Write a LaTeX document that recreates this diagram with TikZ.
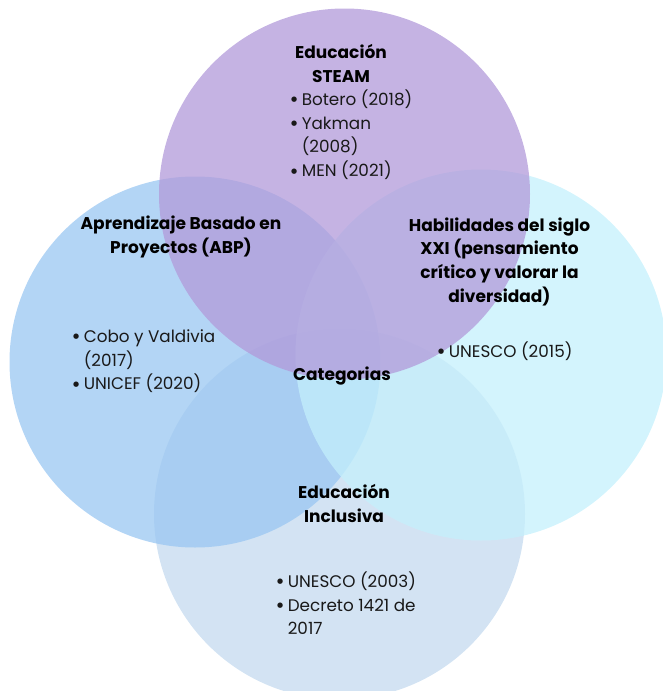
\documentclass[tikz,border=0pt]{standalone}
\usepackage{fontspec}
\setmainfont{Poppins}
\newfontfamily\dejavu{DejaVu Sans}
\definecolor{cTop}{RGB}{178,154,218}
\definecolor{cLeft}{RGB}{154,199,242}
\definecolor{cRight}{RGB}{196,240,252}
\definecolor{cBot}{RGB}{196,218,239}
\tikzset{
  venn/.style={fill opacity=0.75, draw=none},
  head/.style={font=\fontsize{17}{23.8}\selectfont\bfseries, align=center, inner sep=0pt, text=black},
  blist/.style={font=\fontsize{16.8}{23.7}\selectfont, inner sep=0pt, anchor=base west, text=black!90},
}
\newcommand{\blt}{\raisebox{3.6pt}{\dejavu\fontsize{7}{7}\selectfont ●}}
\begin{document}
\begin{tikzpicture}[x=1pt,y=-1pt]
\useasboundingbox (0,0) rectangle (663,691);
\clip (0,0) rectangle (663,691);
\fill[venn, cBot] (339.5,514) circle[radius=185.5];
\fill[venn, cLeft] (195,362) circle[radius=185.5];
\fill[venn, cRight] (481,355) circle[radius=185.5];
\fill[venn, cTop] (344.5,194) circle[radius=185.5];

\node[head, anchor=base] (steamh) at (341,82.5) {Educación\\STEAM};
\node[blist] (steaml) at (291,105.5) {\begin{tabular}[t]{@{}l@{\hspace{4.5pt}}l@{}}\blt & Botero (2018)\\ \blt & Yakman\\ & (2008)\\ \blt & MEN (2021)\end{tabular}};

\node[head, anchor=base] (abph) at (181,253.5) {Aprendizaje Basado en\\Proyectos (ABP)};
\node[blist] (abpl) at (73,342.5) {\begin{tabular}[t]{@{}l@{\hspace{4.5pt}}l@{}}\blt & Cobo y Valdivia\\ & (2017)\\ \blt & UNICEF (2020)\end{tabular}};

\node[head, anchor=base] (habh) at (499.5,302.5) {Habilidades del siglo\\XXI (pensamiento\\crítico y valorar la\\diversidad)};
\node[blist] (habl) at (438,357.5) {\begin{tabular}[t]{@{}l@{\hspace{4.5pt}}l@{}}\blt & UNESCO (2015)\end{tabular}};

\node[head, anchor=base] (cat) at (342,380.5) {Categorias};

\node[head, anchor=base] (inch) at (344,522.5) {Educación\\Inclusiva};
\node[blist] (incl) at (277,587.5) {\begin{tabular}[t]{@{}l@{\hspace{4.5pt}}l@{}}\blt & UNESCO (2003)\\ \blt & Decreto 1421 de\\ & 2017\end{tabular}};
\end{tikzpicture}
\end{document}
